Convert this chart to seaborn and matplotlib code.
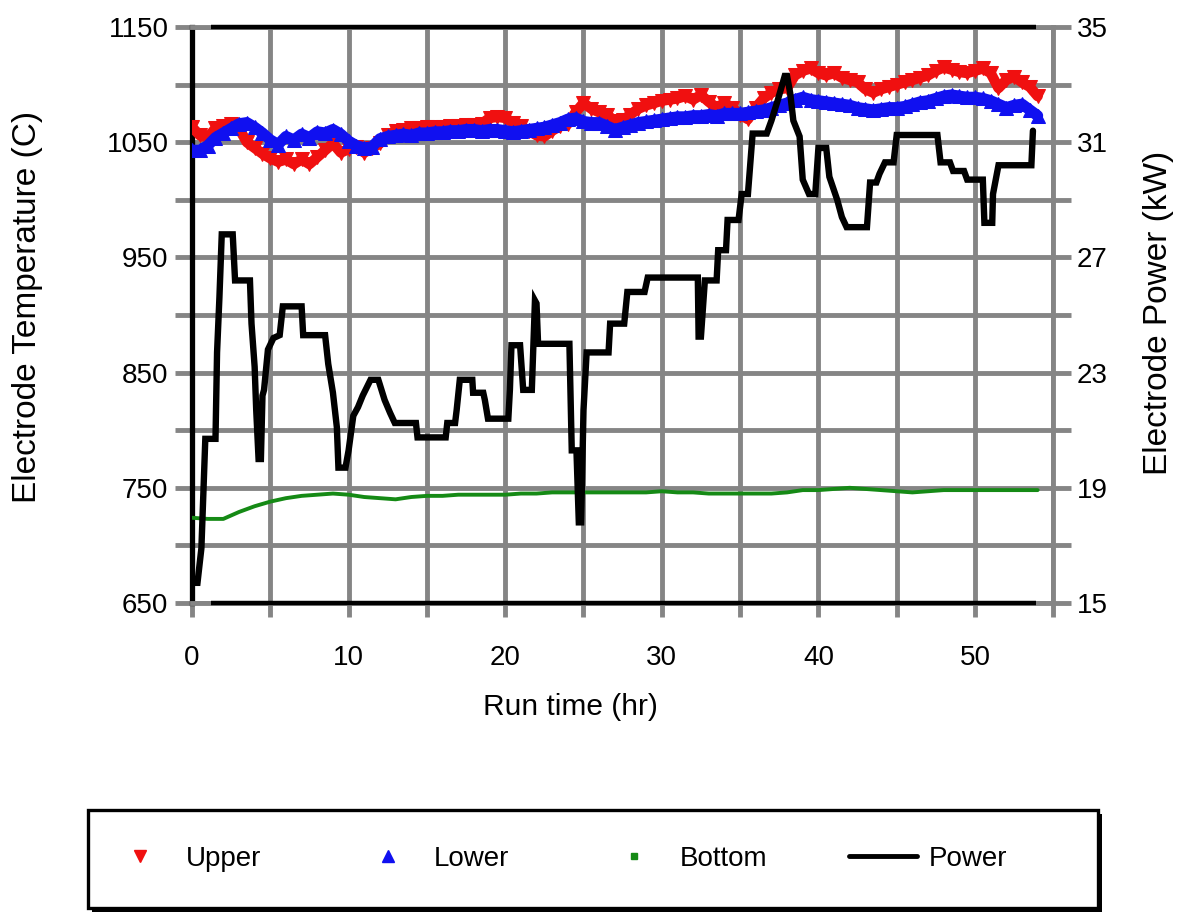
import matplotlib
matplotlib.use("Agg")
import matplotlib.pyplot as plt
import matplotlib.ticker as mticker
from matplotlib.lines import Line2D
from matplotlib.patches import Rectangle
import seaborn as sns

# ---------------- data ----------------
time_tc = [0, 0.5, 1, 1.5, 2, 2.5, 3, 3.5, 4, 4.5, 5, 5.5, 6, 6.5, 7, 7.5, 8, 8.5, 9, 9.5,
           10, 10.5, 11, 11.5, 12, 12.5, 13, 13.5, 14, 14.5, 15, 15.5, 16, 16.5, 17, 17.5, 18, 18.5, 19, 19.5,
           20, 20.5, 21, 21.5, 22, 22.5, 23, 23.5, 24, 24.5, 25, 25.5, 26, 26.5, 27, 27.5, 28, 28.5, 29, 29.5,
           30, 30.5, 31, 31.5, 32, 32.5, 33, 33.5, 34, 34.5, 35, 35.5, 36, 36.5, 37, 37.5, 38, 38.5, 39, 39.5,
           40, 40.5, 41, 41.5, 42, 42.5, 43, 43.5, 44, 44.5, 45, 45.5, 46, 46.5, 47, 47.5, 48, 48.5, 49, 49.5,
           50, 50.5, 51, 51.5, 52, 52.5, 53, 53.5, 54]

upper = [1063, 1056, 1054, 1062, 1064, 1066, 1062, 1050, 1045, 1040, 1036, 1033, 1035, 1031, 1035, 1031, 1037, 1043, 1049, 1041,
         1044, 1046, 1041, 1045, 1049, 1056, 1060, 1061, 1062, 1062, 1063, 1063, 1063, 1064, 1064, 1065, 1065, 1066, 1071, 1072,
         1071, 1067, 1064, 1060, 1056, 1055, 1060, 1064, 1066, 1076, 1084, 1079, 1076, 1074, 1068, 1069, 1074, 1079, 1082, 1084,
         1086, 1087, 1088, 1090, 1087, 1091, 1085, 1080, 1084, 1080, 1074, 1070, 1080, 1088, 1093, 1096, 1097, 1108, 1112, 1114,
         1110, 1108, 1110, 1106, 1104, 1102, 1096, 1093, 1096, 1098, 1100, 1102, 1104, 1106, 1108, 1112, 1115, 1113, 1111, 1110,
         1112, 1114, 1110, 1097, 1104, 1107, 1102, 1098, 1090]

lower = [1043, 1043, 1047, 1054, 1058, 1062, 1066, 1067, 1063, 1058, 1052, 1048, 1055, 1052, 1057, 1054, 1059, 1058, 1061, 1057,
         1051, 1047, 1045, 1046, 1053, 1055, 1056, 1057, 1056, 1058, 1058, 1059, 1059, 1060, 1060, 1061, 1061, 1060, 1061, 1061,
         1060, 1059, 1060, 1061, 1062, 1063, 1065, 1067, 1070, 1071, 1068, 1067, 1067, 1064, 1061, 1063, 1065, 1067, 1068, 1069,
         1070, 1071, 1072, 1072, 1073, 1073, 1074, 1073, 1075, 1075, 1075, 1076, 1077, 1078, 1080, 1082, 1084, 1087, 1089, 1087,
         1086, 1085, 1084, 1083, 1082, 1080, 1079, 1078, 1079, 1080, 1080, 1081, 1083, 1085, 1086, 1088, 1090, 1091, 1090, 1089,
         1089, 1088, 1086, 1083, 1080, 1082, 1083, 1078, 1073]

time_bottom = [0, 1, 2, 3, 4, 5, 6, 7, 8, 9, 10, 11, 12, 13, 14, 15, 16, 17, 18, 19, 20, 21, 22, 23, 24, 25, 26, 27,
               28, 29, 30, 31, 32, 33, 34, 35, 36, 37, 38, 39, 40, 41, 42, 43, 44, 45, 46, 47, 48, 49, 50, 51, 52, 53, 54]
bottom = [724, 723, 723, 729, 734, 738, 741, 743, 744, 745, 744, 742, 741, 740, 742, 743, 743, 744, 744, 744, 744, 745, 745,
          746, 746, 746, 746, 746, 746, 746, 747, 746, 746, 745, 745, 745, 745, 745, 746, 748, 748, 749, 750, 749, 748, 747,
          746, 747, 748, 748, 748, 748, 748, 748, 748]

power_t = [0, 0.35, 0.6, 0.85, 1.5, 1.6, 1.75, 1.9, 2.6, 2.75, 3.7, 3.8, 4.0, 4.1, 4.25, 4.4, 4.5, 4.6, 4.85, 5.2, 5.6,
           5.8, 7.0, 7.1, 8.5, 8.7, 9.0, 9.25, 9.35, 9.8, 10.0, 10.3, 10.6, 10.9, 11.4, 11.9, 12.3, 12.65, 12.95, 14.3,
           14.4, 16.2, 16.3, 16.8, 16.9, 17.1, 17.9, 17.95, 18.6, 18.7, 18.9, 20.2, 20.3, 20.4, 20.95, 21.15, 21.7, 21.9,
           22.0, 22.1, 24.1, 24.25, 24.55, 24.7, 24.85, 25.0, 25.2, 26.6, 26.7, 27.6, 27.8, 28.9, 29.1, 32.3, 32.35, 32.5,
           32.75, 33.5, 33.6, 34.1, 34.2, 34.9, 35.1, 35.5, 35.8, 36.7, 37.0, 37.4, 37.85, 38.0, 38.2, 38.4, 38.8, 39.0,
           39.4, 39.8, 40.0, 40.5, 40.7, 41.2, 41.5, 41.8, 43.1, 43.3, 43.7, 43.9, 44.25, 44.8, 45.0, 47.6, 47.8, 48.4,
           48.6, 49.3, 49.5, 50.5, 50.6, 51.1, 51.15, 51.5, 53.6, 53.7]
power_kw = [15.7, 15.7, 16.9, 20.7, 20.7, 23.7, 25.6, 27.8, 27.8, 26.2, 26.2, 24.7, 23.2, 21.7, 20.0, 20.0, 22.2, 22.4,
            23.8, 24.2, 24.3, 25.3, 25.3, 24.3, 24.3, 23.3, 22.3, 21.1, 19.7, 19.7, 20.3, 21.5, 21.8, 22.2, 22.75, 22.75,
            22.05, 21.6, 21.25, 21.25, 20.75, 20.75, 21.25, 21.25, 21.7, 22.75, 22.75, 22.3, 22.3, 22.05, 21.4, 21.4, 22.4,
            23.95, 23.95, 22.4, 22.4, 25.5, 25.4, 24.0, 24.0, 20.3, 20.3, 17.8, 17.8, 21.7, 23.7, 23.7, 24.7, 24.7, 25.8,
            25.8, 26.3, 26.3, 24.25, 24.25, 26.2, 26.2, 27.25, 27.25, 28.3, 28.3, 29.2, 29.2, 31.3, 31.3, 31.75, 32.45,
            33.3, 33.3, 32.7, 31.75, 31.2, 29.7, 29.2, 29.2, 30.8, 30.8, 29.8, 29.0, 28.4, 28.05, 28.05, 29.6, 29.6, 29.9,
            30.3, 30.3, 31.25, 31.25, 30.3, 30.3, 30.0, 30.0, 29.7, 29.7, 28.2, 28.2, 29.2, 30.2, 30.2, 31.4]

series_labels = ["Upper", "Lower", "Bottom", "Power"]
x_label = "Run time (hr)"
y_label_left = "Electrode Temperature (C)"
y_label_right = "Electrode Power (kW)"
x_major = [0, 10, 20, 30, 40, 50]
x_minor = [5, 15, 25, 35, 45, 55]
y_major = [650, 750, 850, 950, 1050, 1150]
y_minor = [700, 800, 900, 1000, 1100]
y2_major = [15, 19, 23, 27, 31, 35]
y2_minor = [17, 21, 25, 29, 33]

# ---------------- style ----------------
RED = "#f01010"
BLUE = "#1010f0"
GREEN = "#158a15"
GRAY = "#858585"

sns.set_style("white")
FAM = ["Liberation Sans", "DejaVu Sans"]
plt.rcParams["font.family"] = FAM
plt.rcParams["text.color"] = "black"
plt.rcParams["xtick.labelcolor"] = "black"
plt.rcParams["ytick.labelcolor"] = "black"
fs = 20
em = fs * 100 / 72  # px per em

W, H = 1182, 913
fig = plt.figure(figsize=(W / 100, H / 100), dpi=100)
ax = fig.add_axes([192 / W, (H - 603) / H, (1053.3 - 192) / W, 576 / H])
ax2 = ax.twinx()

# temperatures
sns.lineplot(x=time_tc, y=upper, ax=ax, color=RED, lw=7.5, marker="v", markersize=10,
             markeredgecolor=RED, estimator=None, sort=False, zorder=3)
sns.lineplot(x=time_tc, y=lower, ax=ax, color=BLUE, lw=8, marker="^", markersize=10,
             markeredgecolor=BLUE, estimator=None, sort=False, zorder=4)
sns.lineplot(x=time_bottom, y=bottom, ax=ax, color=GREEN, lw=2.8, estimator=None, sort=False, zorder=3)
# power
sns.lineplot(x=power_t, y=power_kw, ax=ax2, color="black", lw=4.6, estimator=None, sort=False,
             solid_joinstyle="miter")

ax.set_xlim(0, 55)
ax.set_ylim(650, 1150)
ax2.set_ylim(15, 35)
ax.set_xlabel("")
ax.set_ylabel("")
ax2.set_ylabel("")

ax.xaxis.set_major_locator(mticker.FixedLocator(x_major))
ax.xaxis.set_minor_locator(mticker.FixedLocator(x_minor))
ax.yaxis.set_major_locator(mticker.FixedLocator(y_major))
ax.yaxis.set_minor_locator(mticker.FixedLocator(y_minor))
ax2.yaxis.set_major_locator(mticker.FixedLocator(y2_major))
ax2.yaxis.set_minor_locator(mticker.FixedLocator(y2_minor))

ax.grid(True, which="both", color=GRAY, lw=3.5, zorder=0)
ax.set_axisbelow(True)
ax2.grid(False)

ax.tick_params(axis="x", which="both", length=10, width=3.5, color=GRAY, direction="out",
               pad=20, labelsize=fs, labelcolor="black", bottom=True, top=False)
ax.tick_params(axis="y", which="both", length=12, width=3.5, color=GRAY, direction="out",
               pad=5, labelsize=fs, labelcolor="black", left=True, right=False)
ax2.tick_params(axis="y", which="both", length=13, width=3.5, color=GRAY, direction="out",
                pad=4, labelsize=fs, labelcolor="black", right=True, left=False)

for s in ax2.spines.values():
    s.set_visible(False)
ax.spines["left"].set_color("black")
ax.spines["left"].set_linewidth(3.8)
for side in ["top", "bottom", "right"]:
    ax.spines[side].set_color(GRAY)
    ax.spines[side].set_linewidth(3.5)
    ax.spines[side].set_visible(True)

# black partial frame lines top and bottom
for yy in (0, 1):
    ax.plot([1.2, 53.9], [yy, yy], transform=ax.get_xaxis_transform(), color="black",
            lw=3.2, clip_on=False, zorder=5, solid_capstyle="butt")

# axis labels
fig.text(570 / W, (H - 707) / H, x_label, ha="center", va="center", fontsize=21.5)
fig.text(28 / W, (H - 307) / H, y_label_left, rotation=90, ha="center", va="center", fontsize=24)
fig.text(1158 / W, (H - 313) / H, y_label_right, rotation=90, ha="center", va="center", fontsize=24)

# legend frame with shadow
x0, y0, bw, bh = 88 / W, (H - 908) / H, 1010 / W, 98 / H
fig.add_artist(Rectangle((x0 + 4 / W, y0 - 4 / H), bw, bh, transform=fig.transFigure,
                         facecolor="black", edgecolor="black", lw=0, zorder=1))
fig.add_artist(Rectangle((x0, y0), bw, bh, transform=fig.transFigure,
                         facecolor="white", edgecolor="black", lw=2.4, zorder=2))

handles = [
    Line2D([], [], color=RED, marker="v", linestyle="none", markersize=9),
    Line2D([], [], color=BLUE, marker="^", linestyle="none", markersize=9),
    Line2D([], [], color=GREEN, marker="s", linestyle="none", markersize=4.5),
    Line2D([], [], color="black", lw=3.5),
]
starts = [106, 354, 600, 849]
for h, lab, xs in zip(handles, series_labels, starts):
    lg = fig.legend(handles=[h], labels=[lab], loc="center left", bbox_to_anchor=(xs / W, (H - 859) / H),
                    frameon=False, borderpad=0, borderaxespad=0, handlelength=68 / em,
                    handletextpad=12 / em, fontsize=fs)
    lg.set_zorder(5)

fig.savefig("out.png", dpi=100)
